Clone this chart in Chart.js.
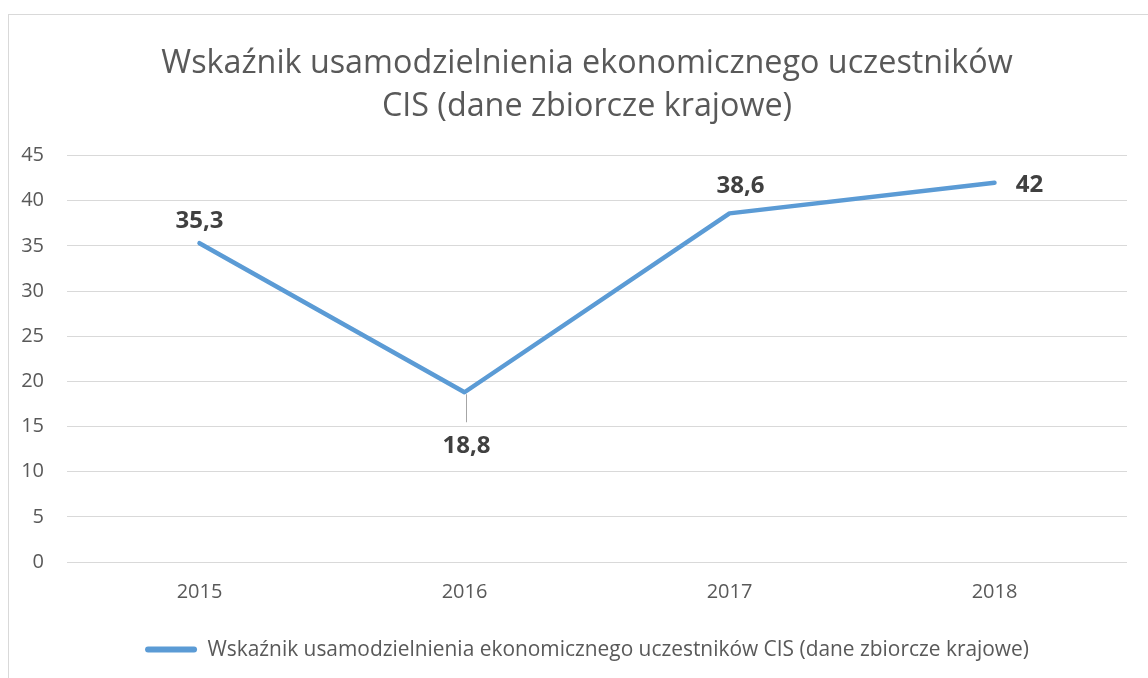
<!DOCTYPE html>
<html>
<head>
<meta charset="utf-8">
<script src="https://cdn.jsdelivr.net/npm/chart.js@4/dist/chart.umd.min.js"></script>
<style>
  html, body { margin: 0; padding: 0; background: #fff; overflow: hidden; width: 1148px; height: 678px; }
  #frame { position: absolute; left: 8px; top: 14px; width: 1156px; height: 700px; border: 1px solid #d9d9d9; }
  #c { display: block; }
</style>
</head>
<body>
<div id="frame"><canvas id="c" width="1156" height="700"></canvas></div>
<script>
const titleLines = ['Wskaźnik usamodzielnienia ekonomicznego uczestników', 'CIS (dane zbiorcze krajowe)'];
const seriesName = 'Wskaźnik usamodzielnienia ekonomicznego uczestników CIS (dane zbiorcze krajowe)';
const categories = ['2015', '2016', '2017', '2018'];
const values = [35.3, 18.8, 38.6, 42];
const yMin = 0, yMax = 45, yStep = 5;

// label placement relative to each point (dx, dy of the text's visual centre), styling only
const labelOffsets = [[0, -24], [2, 52], [11, -29], [35, 1]];
const leaderLine = [false, true, false, false];

const FONT = "'Open Sans', 'DejaVu Sans', sans-serif";
const TEXT = '#595959';
const BLUE = '#5b9bd5';

const dataLabels = {
  id: 'dataLabels',
  afterDatasetsDraw(chart) {
    const ctx = chart.ctx;
    const meta = chart.getDatasetMeta(0);
    ctx.save();
    ctx.font = 'bold 24px ' + FONT;
    ctx.fillStyle = '#404040';
    ctx.textBaseline = 'alphabetic';
    ctx.textAlign = 'center';
    meta.data.forEach((pt, i) => {
      const txt = String(values[i]).replace('.', ',');
      const [dx, dy] = labelOffsets[i];
      if (leaderLine[i]) {
        ctx.strokeStyle = '#a6a6a6'; ctx.lineWidth = 1;
        const lx = Math.round(pt.x) + 1.5;
        ctx.beginPath(); ctx.moveTo(lx, pt.y + 2); ctx.lineTo(lx, pt.y + 30); ctx.stroke();
      }
      ctx.fillText(txt, pt.x + dx, pt.y + dy + 8.5);
    });
    ctx.restore();
  }
};

new Chart(document.getElementById('c'), {
  type: 'line',
  data: {
    labels: categories,
    datasets: [{
      label: seriesName,
      data: values,
      borderColor: BLUE,
      backgroundColor: BLUE,
      borderWidth: 4.5,
      pointRadius: 0,
      pointHoverRadius: 0,
      borderCapStyle: 'round',
      borderJoinStyle: 'round',
      tension: 0
    }]
  },
  options: {
    responsive: false,
    animation: false,
    layout: { padding: { left: 0, right: 0, top: 0, bottom: 45 } },
    plugins: {
      title: {
        display: true,
        text: titleLines,
        color: TEXT,
        font: { family: FONT, size: 32.3, weight: 'normal', lineHeight: 1.34 },
        padding: { top: 27, bottom: 27 }
      },
      legend: {
        position: 'bottom',
        labels: {
          color: TEXT,
          font: { family: FONT, size: 20.9 },
          boxWidth: 52,
          boxHeight: 6,
          padding: 17,
          useBorderRadius: true,
          borderRadius: 3,
          generateLabels(chart) {
            const items = Chart.defaults.plugins.legend.labels.generateLabels(chart);
            items.forEach(it => { it.lineWidth = 0; it.fillStyle = BLUE; it.strokeStyle = BLUE; it.borderRadius = 3; });
            return items;
          }
        }
      },
      tooltip: { enabled: false }
    },
    scales: {
      x: {
        offset: true,
        grid: { display: false, drawTicks: false },
        border: { display: false },
        ticks: { color: TEXT, font: { family: FONT, size: 20 }, padding: 18 }
      },
      y: {
        min: yMin, max: yMax,
        ticks: { stepSize: yStep, color: TEXT, font: { family: FONT, size: 20 }, padding: 23 },
        grid: { color: '#d9d9d9', lineWidth: 1, drawTicks: false },
        border: { display: false },
        afterFit(scale) { scale.width = 58; }
      },
      yRight: {
        position: 'right',
        min: yMin, max: yMax,
        ticks: { display: false },
        grid: { display: false, drawTicks: false },
        border: { display: false },
        afterFit(scale) { scale.width = 38; }
      }
    }
  },
  plugins: [dataLabels]
});
</script>
</body>
</html>
